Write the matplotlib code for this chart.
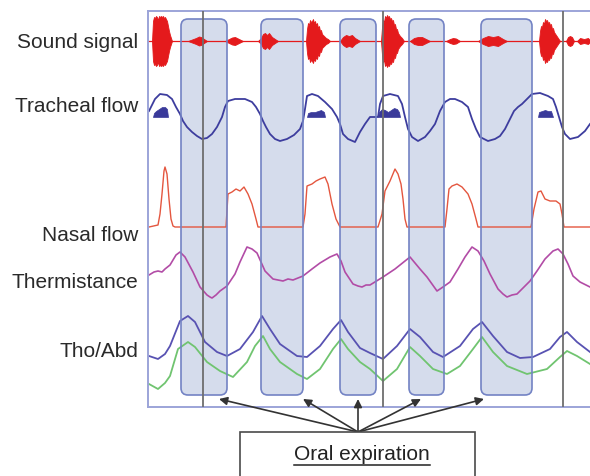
import numpy as np
import matplotlib.pyplot as plt
from matplotlib.patches import FancyBboxPatch, Rectangle
from matplotlib.lines import Line2D

plt.rcParams['font.family'] = ['Liberation Sans', 'DejaVu Sans']

# time runs in samples (18 per second); markers every 10 s
marker_t = [55, 235, 415]

# oral expiration windows
expir_start = [33, 113, 192, 261, 333]
expir_end = [79, 155, 228, 296, 384]
arrow_tip_t = [71, 155, 210, 273, 336]

# sound signal envelope (symmetric around the baseline)
sound_t = [0, 4, 5, 6, 7, 8, 9, 10, 11, 12, 13, 14, 15, 16, 17, 18, 19, 20, 21, 22, 23, 24,
           40, 44, 48, 51, 53, 56, 59,
           77, 81, 84, 87, 90, 95,
           110, 113, 115, 117, 119, 121, 124, 127, 130,
           158, 159, 160, 161, 162, 163, 164, 165, 166, 167, 168, 169, 170, 171, 172, 173,
           174, 176, 178, 180, 182,
           192, 195, 198, 201, 204, 207, 212,
           233, 234, 235, 236, 237, 238, 239, 240, 241, 242, 243, 244, 245, 246, 247, 248,
           249, 250, 252, 254, 256,
           262, 266, 270, 274, 278, 282,
           298, 302, 305, 308, 312,
           330, 335, 340, 345, 350, 355, 359,
           391, 392, 393, 394, 395, 396, 397, 398, 399, 400, 401, 402, 403, 404, 405, 406,
           408, 410, 412,
           418, 420, 422, 424, 426,
           429, 432, 436, 440, 442]
sound_amp = [0, 0, 20, 24, 23, 25, 24, 21, 25, 24, 25, 24, 25, 23, 24, 22, 20, 15, 10, 6, 3, 0,
             0, 1.5, 3, 4.5, 4, 2, 0,
             0, 2, 3.5, 4, 2.5, 0,
             0, 3, 7, 8, 6, 8, 4, 2, 0,
             0, 12, 18, 16, 21, 19, 20, 22, 18, 20, 16, 18, 13, 15, 10, 11,
             7, 5, 3, 2, 0,
             0, 4, 6, 5, 6, 3, 0,
             0, 14, 21, 19, 25, 23, 26, 24, 25, 22, 23, 20, 21, 16, 17, 12,
             12, 8, 5, 3, 0,
             0, 3, 4, 4, 2, 0,
             0, 2, 3, 2.5, 0,
             0, 3, 5, 4, 5, 2, 0,
             0, 10, 15, 14, 19, 17, 22, 20, 21, 18, 19, 16, 17, 12, 13, 9,
             6, 3, 0,
             0, 4, 5, 4, 0,
             0, 3, 2, 3, 1]

# tracheal flow
tracheal_t = [1, 7, 12, 19, 24, 28, 32, 35, 39, 44, 49, 54, 59, 64, 69, 74, 77, 80, 87, 97,
              104, 108, 112, 115, 118, 122, 127, 132, 139, 146, 152, 155, 157, 159, 164, 170,
              177, 184, 189, 192, 195, 200, 207, 212, 217, 222, 230, 232, 235, 242, 250, 254,
              257, 260, 264, 270, 277, 282, 287, 292, 297, 302, 307, 314, 320, 324, 328, 332,
              340, 347, 352, 357, 362, 366, 370, 374, 379, 384, 392, 400, 405, 408, 411, 414,
              417, 422, 430, 437, 442]
tracheal = [31, 43, 48, 47, 43, 35, 28, 21, 15, 10, 6, 3, 4, 8, 15, 25, 35, 41, 43, 43,
            40, 35, 28, 21, 15, 8, 3, 1, 3, 7, 13, 21, 33, 46, 48, 46,
            40, 33, 25, 18, 8, 3, 0, 10, 18, 25, 25, 38, 46, 48, 46, 38,
            25, 13, 5, 1, 5, 11, 18, 31, 40, 43, 43, 40, 35, 23, 13, 5,
            1, 3, 6, 13, 23, 31, 35, 38, 43, 48, 49, 46, 43, 35, 25, 15,
            8, 3, 5, 11, 18]

# filled humps on the tracheal channel
blob_t = [[5, 6, 8, 11, 14, 17, 19, 20],
          [159, 160, 163, 167, 170, 173, 176, 177],
          [230, 231, 234, 237, 240, 243, 246, 249, 251, 252],
          [390, 391, 394, 397, 400, 403, 405]]
blob_h = [[0, 4, 6, 8, 10, 10, 8, 0],
          [0, 4, 5, 5, 6, 7, 5, 0],
          [0, 5, 8, 7, 5, 7, 9, 8, 5, 0],
          [0, 5, 6, 7, 6, 6, 0]]

# nasal flow
nasal_t = [1, 10, 12, 14, 16, 17, 19, 21, 23, 25, 27, 78, 80, 84, 88, 92, 96, 100, 104, 108,
           110, 155, 157, 159, 164, 168, 172, 177, 180, 184, 188, 192, 230, 234, 237, 242,
           247, 250, 253, 255, 257, 259, 297, 299, 301, 304, 309, 314, 320, 324, 328, 330,
           383, 386, 390, 393, 397, 402, 408, 412, 414, 416, 442]
nasal = [0, 2, 13, 33, 56, 60, 53, 28, 8, 1, 0, 0, 33, 35, 38, 36, 40, 33, 23, 8,
         0, 0, 13, 41, 43, 46, 48, 50, 43, 23, 8, 0, 0, 13, 36, 46,
         58, 53, 43, 28, 8, 0, 0, 18, 38, 41, 43, 40, 33, 23, 8, 0,
         0, 18, 35, 36, 28, 26, 26, 23, 13, 0, 0]

# thermistance
therm_t = [1, 6, 10, 14, 17, 22, 28, 32, 37, 45, 52, 59, 62, 64, 68, 72, 79, 87, 92, 99, 104,
           109, 117, 125, 130, 135, 140, 145, 155, 164, 172, 182, 189, 193, 197, 205, 210, 214,
           218, 222, 235, 247, 257, 262, 267, 272, 279, 289, 292, 295, 302, 310, 317, 324, 330,
           336, 342, 350, 355, 359, 364, 369, 376, 382, 389, 397, 405, 410, 415, 420, 425, 432,
           442]
therm = [24, 27, 28, 27, 30, 34, 44, 47, 42, 27, 12, 4, 2, 1, 4, 8, 13, 25, 37, 52, 50,
         46, 28, 20, 19, 18, 20, 19, 23, 30, 36, 42, 45, 38, 27, 15, 13, 12,
         14, 14, 22, 30, 38, 42, 36, 30, 22, 8, 10, 12, 17, 30, 42, 52, 48,
         38, 25, 10, 5, 2, 4, 5, 12, 18, 28, 40, 48, 50, 45, 35, 23, 17,
         12]

# thoracic and abdominal effort
tho_t = [1, 10, 17, 22, 32, 40, 47, 57, 69, 79, 92, 105, 114, 122, 132, 149, 159, 172, 185,
         193, 200, 212, 222, 235, 249, 262, 272, 285, 295, 312, 325, 334, 345, 359, 372, 385,
         402, 412, 419, 429, 442]
tho = [3, 0, 5, 13, 38, 43, 37, 17, 7, 3, 10, 27, 43, 30, 15, 3, 2, 13, 30,
       39, 27, 11, 6, 0, 13, 30, 22, 7, 2, 13, 30, 37, 23, 7, 1, 2,
       10, 22, 27, 17, 7]
abd_t = [1, 10, 17, 22, 30, 40, 47, 59, 72, 85, 99, 107, 115, 122, 132, 149, 159, 172, 185,
         193, 200, 212, 222, 235, 249, 262, 272, 285, 299, 312, 325, 334, 345, 359, 379, 399,
         412, 419, 429, 442]
abd = [7, 2, 8, 15, 42, 49, 44, 29, 20, 14, 29, 45, 55, 42, 29, 17, 12, 22, 42,
       52, 42, 29, 22, 10, 22, 44, 35, 22, 17, 25, 42, 54, 39, 25, 17, 22,
       34, 40, 35, 27]

labels = ['Sound signal', 'Tracheal flow', 'Nasal flow', 'Thermistance', 'Tho/Abd']
label_y = [42, 107, 236, 283, 352]

# channel baselines on the shared vertical scale
base_sound, base_tr, base_nasal, base_therm, base_tho, base_abd = 366, 265, 180, 108, 48, 16

fig = plt.figure(figsize=(5.9, 4.77), dpi=100)
ax = fig.add_axes([148 / 590, 69 / 477, 442 / 590, 396 / 477])
ax.set_xlim(0, 442)
ax.set_ylim(0, 396)
ax.set_xticks([])
ax.set_yticks([])
for side in ['left', 'top', 'bottom']:
    ax.spines[side].set_color('#9ca4d8')
    ax.spines[side].set_linewidth(1.4)
ax.spines['right'].set_visible(False)

# expiration windows
for s, e in zip(expir_start, expir_end):
    ax.add_patch(FancyBboxPatch((s, 12), e - s, 376,
                                boxstyle='round,pad=0,rounding_size=7',
                                facecolor='#d5dcec', edgecolor='none', zorder=1))
    ax.add_patch(FancyBboxPatch((s, 12), e - s, 376,
                                boxstyle='round,pad=0,rounding_size=7',
                                facecolor='none', edgecolor='#7383c4', lw=1.2, zorder=4))

for m in marker_t:
    ax.axvline(m, color='#6e6e6e', lw=1.3, zorder=5)

red = '#e41a1c'
st = np.array(sound_t)
sa = np.array(sound_amp)
ax.plot([0, 442], [base_sound, base_sound], color=red, lw=0.9, zorder=2)
ax.fill_between(st, base_sound - sa, base_sound + sa, color=red, lw=0.6, zorder=2)

ax.plot(tracheal_t, np.array(tracheal) + base_tr, color='#3d3d9e', lw=1.3, zorder=2)
for bt, bh in zip(blob_t, blob_h):
    bh = np.array(bh)
    ax.fill_between(bt, base_tr + 25, base_tr + 25 + bh, color='#3a3a9a', lw=0.5, zorder=2)

ax.plot(nasal_t, np.array(nasal) + base_nasal, color='#e4563f', lw=1.0, zorder=2)
ax.plot(therm_t, np.array(therm) + base_therm, color='#b24ca6', lw=1.2, zorder=2)
ax.plot(tho_t, np.array(tho) + base_tho, color='#5852b2', lw=1.3, zorder=2)
ax.plot(abd_t, np.array(abd) + base_abd, color='#70c470', lw=1.3, zorder=2)

# channel names
for lab, y in zip(labels, label_y):
    fig.text(138 / 590, 1 - y / 477, lab, ha='right', va='center',
             fontsize=15, color='#2a2a2a')

# arrows from the caption box to each window
for tip in arrow_tip_t:
    ax.annotate('', xy=(tip, 8), xytext=(210, -25), xycoords='data',
                textcoords='data', annotation_clip=False,
                arrowprops=dict(arrowstyle='-|>', color='#333333', lw=1.2,
                                mutation_scale=12, shrinkA=0, shrinkB=0))

fig.add_artist(Rectangle((240 / 590, -0.02), 235 / 590, 44 / 477 + 0.02,
                         transform=fig.transFigure, facecolor='white',
                         edgecolor='#4a4a4a', lw=1.2))
cap = fig.text(362 / 590, 1 - 455 / 477, 'Oral expiration', ha='center', va='center',
               fontsize=15, color='#222222')

# underline the caption
fig.canvas.draw()
bb = cap.get_window_extent()
uy = bb.y0 - 1
fig.add_artist(Line2D([bb.x0 / 590, bb.x1 / 590], [uy / 477, uy / 477],
                      transform=fig.transFigure, color='#222222', lw=1.1))

fig.savefig('out.png', dpi=100)
